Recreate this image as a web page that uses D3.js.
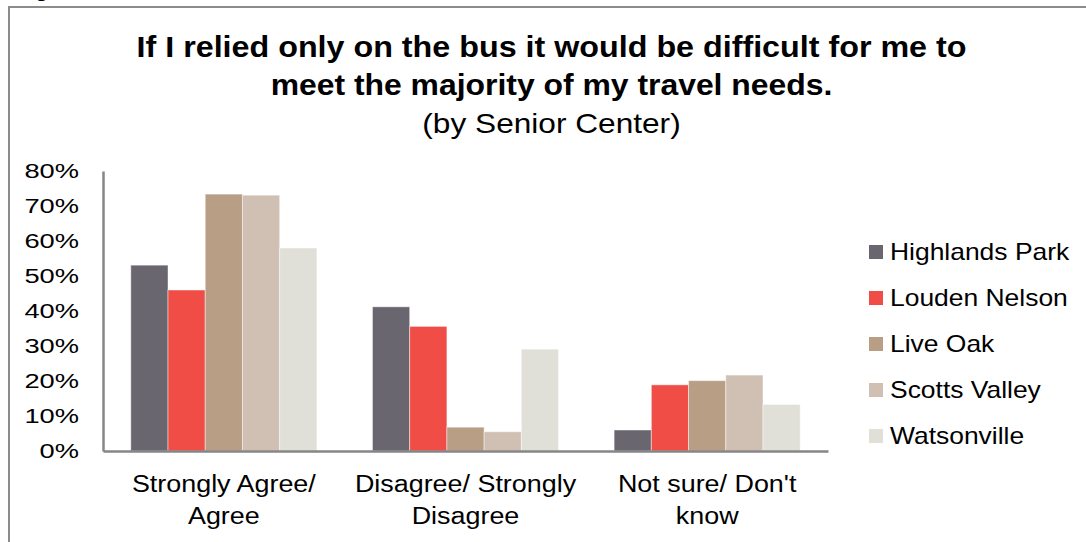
<!DOCTYPE html>
<html>
<head>
<meta charset="utf-8">
<script src="https://cdn.jsdelivr.net/npm/d3@7"></script>
<style>
  html, body { margin: 0; padding: 0; background: #fff; }
  svg { display: block; }
  text { font-family: "Liberation Sans", Arial, sans-serif; fill: #000; }
</style>
</head>
<body>
<svg id="chart" width="1086" height="542"></svg>
<script>
const categories = [["Strongly Agree/", "Agree"], ["Disagree/ Strongly", "Disagree"], ["Not sure/ Don't", "know"]];
const seriesNames = ["Highlands Park", "Louden Nelson", "Live Oak", "Scotts Valley", "Watsonville"];
const seriesColors = ["#69666f", "#f04d47", "#b89e85", "#cfc0b3", "#e1e0d8"];
const highlandsPark = [0.531, 0.412, 0.060];
const loudenNelson  = [0.460, 0.356, 0.189];
const liveOak       = [0.734, 0.068, 0.201];
const scottsValley  = [0.731, 0.055, 0.217];
const watsonville   = [0.580, 0.291, 0.133];
const seriesValues = [highlandsPark, loudenNelson, liveOak, scottsValley, watsonville];
const yTicks = [0, 0.1, 0.2, 0.3, 0.4, 0.5, 0.6, 0.7, 0.8];
const titleLines = ["If I relied only on the bus it would be difficult for me to", "meet the majority of my travel needs."];
const subtitle = "(by Senior Center)";

const svg = d3.select("#chart");
const plot = { left: 103, right: 828, top: 171, bottom: 451 };

// outer frame (extends beyond the picture)
svg.append("rect").attr("x", 9).attr("y", 7).attr("width", 1200).attr("height", 700)
  .attr("fill", "none").attr("stroke", "#8c8c8c").attr("stroke-width", 2);

// fragment of text above the frame
svg.append("text").attr("x", 35).attr("y", -4).attr("font-size", 22).attr("font-weight", "bold").text("g");

function stretchedText(sel, x, y, str, size, weight, anchor, sx) {
  return sel.append("text")
    .attr("transform", `translate(${x},${y}) scale(${sx},1)`)
    .attr("font-size", size)
    .attr("font-weight", weight)
    .attr("text-anchor", anchor)
    .text(str);
}

// title
const cx = 551.5;
stretchedText(svg, cx, 57, titleLines[0], 29, "bold", "middle", 1.113);
stretchedText(svg, cx, 95, titleLines[1], 29, "bold", "middle", 1.10);
stretchedText(svg, cx, 133, subtitle, 28, "normal", "middle", 1.13);

const x0 = d3.scaleBand().domain(d3.range(categories.length))
  .range([plot.left, plot.right]).paddingInner(0.23).paddingOuter(0.115);
const x1 = d3.scaleBand().domain(d3.range(seriesNames.length)).range([0, x0.bandwidth()]);
const y = d3.scaleLinear().domain([0, 0.8]).range([plot.bottom, plot.top]);

// bars
const groups = svg.append("g").selectAll("g").data(categories).join("g")
  .attr("transform", (d, i) => `translate(${x0(i)},0)`);
groups.selectAll("rect")
  .data((d, i) => seriesValues.map((vals, s) => ({ s, v: vals[i] })))
  .join("rect")
  .attr("x", d => x1(d.s))
  .attr("y", d => y(d.v))
  .attr("width", x1.bandwidth())
  .attr("height", d => y(0) - y(d.v))
  .attr("fill", d => seriesColors[d.s])
  .attr("stroke", "rgba(255,255,255,0.45)")
  .attr("stroke-width", 1);

// axes
const tickSX = 1.3;
const yAxis = d3.axisLeft(y).tickValues(yTicks).tickSize(0).tickPadding(0).tickFormat(d3.format(".0%"));
const gy = svg.append("g").attr("transform", `translate(${plot.left},0)`).call(yAxis);
gy.select(".domain").attr("stroke", "#868686").attr("stroke-width", 2.5);
gy.selectAll(".tick text")
  .attr("x", -24 / tickSX)
  .attr("transform", `scale(${tickSX},1)`)
  .attr("font-size", 21)
  .attr("font-family", "Liberation Sans, Arial, sans-serif")
  .attr("fill", "#000");

const xAxis = d3.axisBottom(x0).tickSize(0).tickFormat("");
const gx = svg.append("g").attr("transform", `translate(0,${plot.bottom})`).call(xAxis);
gx.select(".domain").attr("stroke", "#868686").attr("stroke-width", 2.5);

// category labels
categories.forEach((lines, i) => {
  const c = x0(i) + x0.bandwidth() / 2;
  lines.forEach((ln, j) => {
    stretchedText(svg, c, 492 + j * 32, ln, 23, "normal", "middle", 1.17);
  });
});

// legend
const legend = svg.append("g");
seriesNames.forEach((name, i) => {
  const cy = 252 + i * 46;
  legend.append("rect").attr("x", 869).attr("y", cy - 7).attr("width", 14).attr("height", 14)
    .attr("fill", seriesColors[i]);
  stretchedText(legend, 890, cy + 8, name, 23, "normal", "start", 1.15);
});
</script>
</body>
</html>
